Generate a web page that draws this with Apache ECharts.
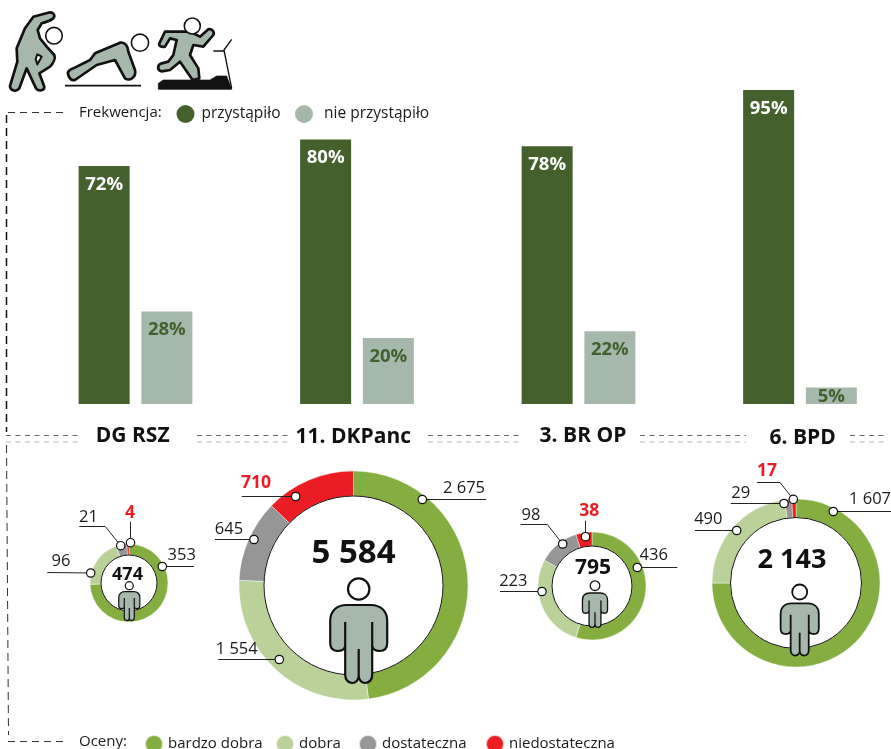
<!DOCTYPE html>
<html lang="pl">
<head>
  <meta charset="UTF-8" />
  <title>Frekwencja i oceny</title>
  <script src="https://cdn.jsdelivr.net/npm/echarts@6/dist/echarts.min.js"></script>
  <style>
    html, body, #main { margin: 0; padding: 0; width: 100%; height: 100%; background: #fff; overflow: hidden; }
  </style>
</head>
<body>
  <div id="main"></div>
  <script>
    const categories = ['DG RSZ', '11. DKPanc', '3. BR OP', '6. BPD'];
    const attendedName = 'przystąpiło';
    const absentName = 'nie przystąpiło';
    const attended = [72, 80, 78, 95];
    const absent = [28, 20, 22, 5];

    const gradeNames = ['bardzo dobra', 'dobra', 'dostateczna', 'niedostateczna'];
    const gradeColors = ['#85ae41', '#bad29a', '#969696', '#ec1c24'];
    const veryGood = [353, 2675, 436, 1607];
    const good = [96, 1554, 223, 490];
    const sufficient = [21, 645, 98, 29];
    const insufficient = [4, 710, 38, 17];

    const FONT = '"Open Sans", sans-serif';
    const INK = '#1a1a1a';
    const SAGE = '#a6b8ac';
    const DARK = '#44602d';

    // rings: centre, radii, total label, person figure
    const rings = [
      { c: [129, 583], r: [28, 39], total: [127.5, 574.5, 18], person: [129.3, 591.7, 0.37, 1.2, 585.7, 4] },
      { c: [353.5, 585.5], r: [89.5, 114.5], total: [353.5, 554, 33], person: [358.7, 605, 1, 2.2, 589, 10.7] },
      { c: [592, 586], r: [40, 54], total: [593, 568.5, 21], person: [595, 593, 0.44, 1.3, 585.7, 4.8] },
      { c: [796, 583], r: [65.5, 84], total: [792, 560, 27], person: [799.7, 603.3, 0.67, 1.8, 592, 7.5] }
    ];

    // callouts per ring, in grade order: leader points (last one carries the dot), text centre
    const callouts = [
      [
        { pts: [[194, 566.5], [162.3, 566.5]], text: [181.7, 555] },
        { pts: [[47.3, 572.5], [90.7, 573]], text: [61, 561] },
        { pts: [[79.3, 526.5], [105.3, 526.5], [120.7, 545.7]], text: [88.5, 517] },
        { pts: [[130.5, 521.7], [130.5, 542.7]], text: [130, 512.7] }
      ],
      [
        { pts: [[486, 499.5], [422.3, 499.5]], text: [464, 488.3] },
        { pts: [[218.3, 659.5], [279.3, 659.5]], text: [236.7, 649.3] },
        { pts: [[215, 539.5], [254, 539.5]], text: [229, 529.3] },
        { pts: [[241.7, 496.5], [295.7, 496.5]], text: [256, 483.3] }
      ],
      [
        { pts: [[677.3, 567.5], [637.3, 567.5]], text: [653.7, 555] },
        { pts: [[500, 591.5], [542, 591.5]], text: [513.3, 581.7] },
        { pts: [[520.7, 524.5], [547.3, 524.5], [562.7, 544]], text: [531, 515] },
        { pts: [[585.5, 520.7], [585.5, 536.7]], text: [589.3, 510.7] }
      ],
      [
        { pts: [[891, 511.5], [833.3, 511.5]], text: [870, 499.3] },
        { pts: [[695, 530.5], [736.7, 530.5]], text: [708.3, 519.3] },
        { pts: [[730.7, 503.5], [784, 503.5]], text: [740.7, 493.3] },
        { pts: [[757, 482.5], [780, 482.5], [793.3, 499.3]], text: [767, 471] }
      ]
    ];

    const titlePos = [[132.7, 436.5], [353.3, 437], [583, 436], [802.7, 438]];

    const PERSON = 'M-12 0L12 0C22 0 28.5 6 28.5 16L28.5 38C28.5 44 25 46 21 46C17 46 13.5 44 13.5 40L13.5 70C13.5 75 10 78 6.5 78C3 78 0 75 0 71C0 75 -3 78 -6.5 78C-10 78 -13.5 75 -13.5 70L-13.5 40C-13.5 44 -17 46 -21 46C-25 46 -28.5 44 -28.5 38L-28.5 16C-28.5 6 -22 0 -12 0ZM13.5 40L13.5 17M-13.5 40L-13.5 17M0 71L0 44';

    const thousands = n => String(n).replace(/\B(?=(\d{3})+$)/g, ' ');
    const gradeValues = i => [veryGood[i], good[i], sufficient[i], insufficient[i]];

    const graphics = [];

    // the graphic component has no plain 'path' type, so every svg path gets registered as a shape
    let shapeCount = 0;
    function pathEl(d, props) {
      const name = 'svgShape' + (shapeCount++);
      echarts.graphic.registerShape(name, echarts.graphic.extendPath(d, {}));
      graphics.push(Object.assign({ type: name, silent: true, z: 20 }, props));
    }
    function dashLine(pts, color, width, dash) {
      graphics.push({
        type: 'polyline', z: 1, silent: true,
        shape: { points: pts },
        style: { stroke: color, lineWidth: width, lineDash: dash, fill: null }
      });
    }
    function label(text, x, y, size, color, weight) {
      graphics.push({
        type: 'text', z: 30, silent: true, x: x, y: y,
        style: { text: text, fill: color, font: (weight || 'normal') + ' ' + size + 'px ' + FONT, align: 'center', verticalAlign: 'middle' }
      });
    }
    function head(x, y, r, lw) {
      graphics.push({
        type: 'circle', z: 21, silent: true, shape: { cx: x, cy: y, r: r },
        style: { fill: '#fff', stroke: '#111', lineWidth: lw }
      });
    }
    // icons are drawn in 3x units, so they get scaled down
    function icon(d, fill, lw, y) {
      pathEl(d, {
        y: y || 0, scaleX: 1 / 3, scaleY: 1 / 3,
        style: { fill: fill, stroke: '#111', lineWidth: lw, lineJoin: 'round' }
      });
    }

    // frame and separators
    dashLine([[8, 112.5], [66, 112.5]], '#333', 1, [7, 5]);
    dashLine([[6.5, 115], [6.5, 432]], '#111', 1.5, [8, 5]);
    dashLine([[6.5, 445], [8.5, 735]], '#333', 1, [8, 5]);
    dashLine([[8, 741.5], [66, 741.5]], '#333', 1, [7, 5]);
    [[6, 78], [197, 289], [428, 522], [640, 746], [850, 887]].forEach(s => {
      dashLine([[s[0], 435.5], [s[1], 435.5]], '#666', 1, [5, 4.5]);
      dashLine([[s[0], 442], [s[1], 442]], '#b5b5b5', 1.2, [5, 4.5]);
    });

    // top icons
    icon('M150 22C160 22 165 30 162 37C159 44 150 47 125 55L113 75L120 100L140 125L163 150C167 160 160 175 150 185L118 205L133 245C134 255 118 262 108 250L80 190L58 250C50 262 30 258 30 243L52 170L50 130L75 70L100 35Z', SAGE, 8, 5);
    icon('M107 162L112 148L125 155L112 178Z', '#fff', 6, 5);
    head(54, 35.7, 8.3, 1.6);

    icon('M205 225C200 215 210 208 220 205L270 180L285 160L360 128C375 125 385 140 385 155L405 210C410 230 390 245 375 235L345 180L290 195L225 240C215 242 208 235 205 225Z', SAGE, 8);
    icon('M195 257L423 257', null, 5);
    head(140, 42.7, 8.6, 1.6);

    icon('M475 268L475 250L490 240L630 240L650 228L680 228L695 268Z', '#111', 2);
    icon('M695 265L672 150L695 118M640 153L672 153', null, 4);
    icon('M478 130L495 95L570 95L600 110L625 88C635 85 645 95 640 105L610 140L580 135L570 165L595 205L598 235L578 240L540 185L510 210L485 214C472 212 470 195 485 190L505 185L520 165L530 120L510 115L495 140C485 142 475 138 478 130Z', SAGE, 8);
    head(192.3, 26, 8, 1.6);

    // legend captions
    graphics.push({
      type: 'text', z: 30, silent: true, x: 79, y: 113,
      style: { text: 'Frekwencja:', fill: INK, font: '15px ' + FONT, align: 'left', verticalAlign: 'middle' }
    });
    graphics.push({
      type: 'text', z: 30, silent: true, x: 79, y: 742,
      style: { text: 'Oceny:', fill: INK, font: '15px ' + FONT, align: 'left', verticalAlign: 'middle' }
    });

    // group titles
    categories.forEach((name, i) => label(name, titlePos[i][0], titlePos[i][1], 21, '#111', 'bold'));

    const pieSeries = rings.map((ring, i) => {
      const vals = gradeValues(i);

      graphics.push({
        type: 'circle', z: 10, silent: true,
        shape: { cx: ring.c[0], cy: ring.c[1], r: ring.r[0] },
        style: { fill: '#fff', stroke: '#111', lineWidth: 1 }
      });
      label(thousands(vals.reduce((a, b) => a + b, 0)), ring.total[0], ring.total[1], ring.total[2], '#111', 'bold');

      const p = ring.person;
      pathEl(PERSON, {
        x: p[0], y: p[1], scaleX: p[2], scaleY: p[2],
        style: { fill: SAGE, stroke: '#111', lineWidth: p[3] / p[2], lineJoin: 'round' }
      });
      head(p[0], p[4], p[5], p[3]);

      callouts[i].forEach((c, g) => {
        graphics.push({
          type: 'polyline', z: 22, silent: true, shape: { points: c.pts },
          style: { stroke: '#222', lineWidth: 1, fill: null }
        });
        const end = c.pts[c.pts.length - 1];
        graphics.push({
          type: 'circle', z: 23, silent: true, shape: { cx: end[0], cy: end[1], r: 4.2 },
          style: { fill: '#fff', stroke: '#111', lineWidth: 1.2 }
        });
        if (g === 3) label(thousands(vals[g]), c.text[0], c.text[1], 17.5, '#ec1c24', 'bold');
        else label(thousands(vals[g]), c.text[0], c.text[1], 16.5, INK);
      });

      return {
        type: 'pie', silent: true, center: ring.c, radius: ring.r, startAngle: 90,
        label: { show: false }, labelLine: { show: false },
        itemStyle: { borderColor: 'rgba(255,255,255,0.7)', borderWidth: 0.6 },
        data: vals.map((v, g) => ({ name: gradeNames[g], value: v, itemStyle: { color: gradeColors[g] } }))
      };
    });

    const barLabel = color => ({
      show: true, position: 'insideTop', distance: 9, color: color,
      fontFamily: FONT, fontWeight: 'bold', fontSize: 18.5, formatter: '{c}%'
    });

    function legendItem(name, left, top, size, gap) {
      return {
        data: [name], left: left, top: top, icon: 'circle', itemWidth: 18, itemHeight: 18, itemGap: 0, padding: 0,
        selectedMode: false,
        textStyle: { fontFamily: FONT, fontSize: size, color: INK, padding: [0, 0, 0, gap] }
      };
    }

    const chart = echarts.init(document.getElementById('main'));
    chart.setOption({
      animation: false,
      backgroundColor: '#fff',
      legend: [
        legendItem(attendedName, 176.5, 105, 15.5, 2),
        legendItem(absentName, 295, 105, 15.5, 6),
        legendItem(gradeNames[0], 144, 734, 15, 0),
        legendItem(gradeNames[1], 275, 734, 15, 0),
        legendItem(gradeNames[2], 358, 734, 15, 0),
        legendItem(gradeNames[3], 485, 734, 15, 0)
      ],
      // the last band runs past the window edge, as in the reference layout
      grid: { left: 24.75, top: 73.5, right: -19.75, height: 330.5, outerBoundsMode: 'none' },
      xAxis: {
        type: 'category', data: categories,
        axisLine: { show: false }, axisTick: { show: false }, axisLabel: { show: false }
      },
      yAxis: { type: 'value', min: 0, max: 100, show: false, splitLine: { show: false } },
      series: [
        {
          name: attendedName, type: 'bar', barWidth: 51, barGap: '23%', silent: true,
          itemStyle: { color: DARK }, label: barLabel('#fff'), data: attended
        },
        {
          name: absentName, type: 'bar', barWidth: 51, silent: true,
          itemStyle: { color: SAGE }, label: barLabel(DARK),
          data: absent.map(v => v < 10 ? { value: v, label: { distance: 0 } } : v)
        }
      ].concat(pieSeries),
      graphic: { elements: graphics }
    });
  </script>
</body>
</html>
